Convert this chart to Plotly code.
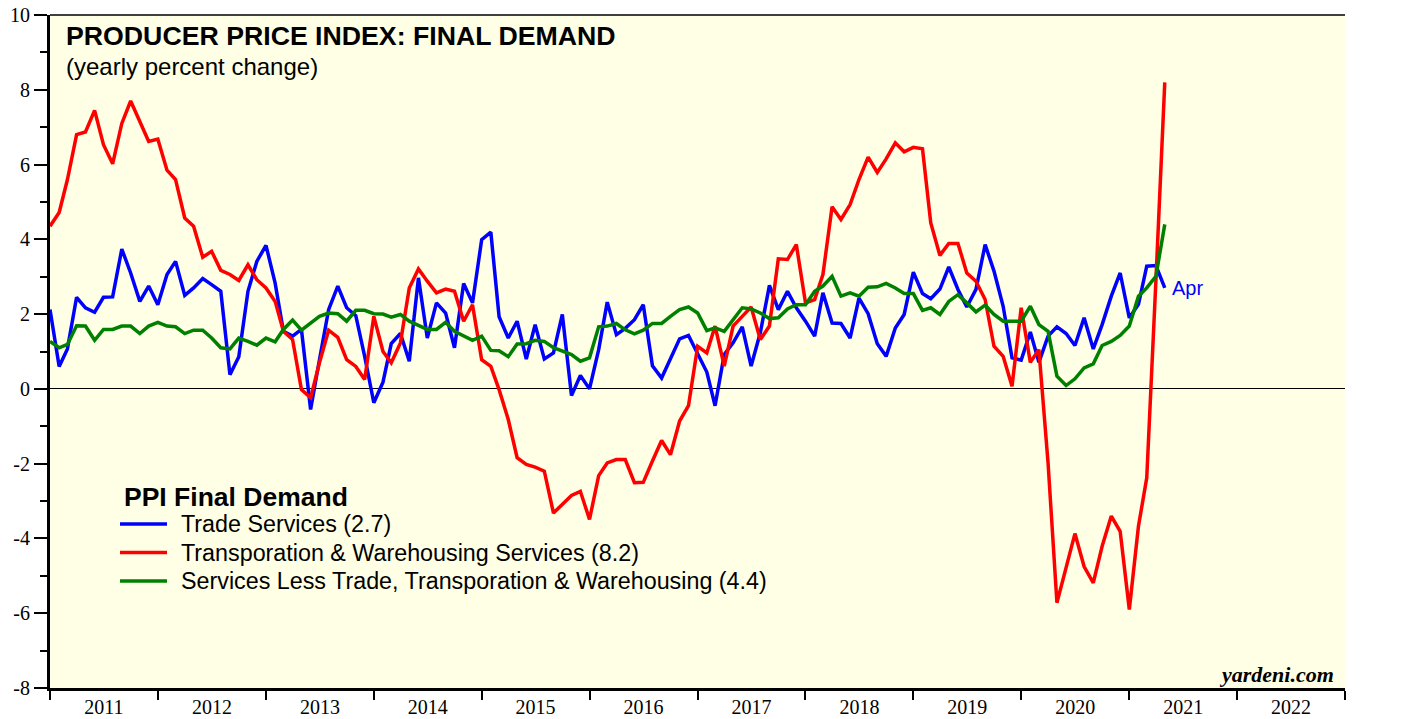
import pandas as pd
import plotly.graph_objects as go

# Monthly observations, Dec 2010 .. Apr 2021 (plotted at month end)
dates = pd.date_range("2011-01-01", periods=125, freq="MS")

trade_services = [
    2.12, 0.6, 1.07, 2.45, 2.17, 2.05, 2.45, 2.46, 3.74, 3.1, 2.34, 2.75, 2.25, 3.06, 3.41, 2.5,
    2.7, 2.95, 2.79, 2.61, 0.38, 0.86, 2.61, 3.41, 3.84, 2.83, 1.54, 1.41, 1.59, -0.55, 0.78, 2.12, 2.75,
    2.17, 1.96, 0.87, -0.37, 0.18, 1.21, 1.48, 0.74, 2.97, 1.36, 2.3, 2.03, 1.1, 2.82, 2.3, 3.99,
    4.19, 1.93, 1.36, 1.81, 0.8, 1.72, 0.8, 0.96, 1.99, -0.18, 0.36, 0.0, 1.05, 2.32, 1.45, 1.62,
    1.85, 2.25, 0.62, 0.29, 0.8, 1.34, 1.43, 0.96, 0.45, -0.45, 0.92, 1.23, 1.66, 0.61, 1.5, 2.77,
    2.12, 2.61, 2.17, 1.81, 1.41, 2.57, 1.76, 1.75, 1.36, 2.43, 2.01, 1.21, 0.87, 1.63, 1.99, 3.12,
    2.55, 2.41, 2.67, 3.26, 2.66, 2.19, 2.66, 3.86, 3.15, 2.21, 0.83, 0.77, 1.52, 0.71, 1.41, 1.66,
    1.48, 1.16, 1.9, 1.07, 1.72, 2.48, 3.1, 1.9, 2.26, 3.28, 3.3, 2.7,
]

transport_warehousing = [
    4.35, 4.72, 5.6, 6.8, 6.87, 7.45, 6.53, 6.02, 7.1, 7.7, 7.15, 6.62, 6.68, 5.85, 5.6, 4.57,
    4.35, 3.52, 3.68, 3.17, 3.06, 2.9, 3.32, 2.92, 2.7, 2.34, 1.54, 1.32, -0.02, -0.24, 0.7, 1.57, 1.38,
    0.78, 0.6, 0.25, 1.94, 1.0, 0.7, 1.23, 2.7, 3.21, 2.88, 2.57, 2.67, 2.61, 1.81, 2.25, 0.78,
    0.6, -0.02, -0.82, -1.84, -2.02, -2.09, -2.2, -3.32, -3.09, -2.85, -2.74, -3.49, -2.32, -1.98, -1.89, -1.89,
    -2.51, -2.5, -1.93, -1.38, -1.76, -0.86, -0.45, 1.14, 0.96, 1.68, 0.61, 1.68, 1.94, 2.19, 1.32, 1.68,
    3.48, 3.46, 3.86, 2.3, 2.39, 3.06, 4.87, 4.53, 4.93, 5.6, 6.2, 5.79, 6.15, 6.58, 6.34, 6.46,
    6.42, 4.44, 3.57, 3.89, 3.89, 3.1, 2.88, 2.39, 1.14, 0.87, 0.07, 2.17, 0.71, 1.05, -1.98, -5.72,
    -4.78, -3.87, -4.75, -5.19, -4.21, -3.4, -3.81, -5.9, -3.67, -2.38, 2.9, 8.2,
]

services_less = [
    1.27, 1.1, 1.19, 1.69, 1.68, 1.3, 1.59, 1.59, 1.68, 1.68, 1.48, 1.68, 1.78, 1.68, 1.66, 1.48,
    1.57, 1.57, 1.36, 1.1, 1.07, 1.36, 1.27, 1.17, 1.36, 1.26, 1.59, 1.84, 1.57, 1.76, 1.94, 2.03, 2.01,
    1.81, 2.1, 2.1, 2.01, 2.0, 1.92, 1.99, 1.81, 1.7, 1.59, 1.59, 1.78, 1.54, 1.41, 1.3, 1.41,
    1.03, 1.02, 0.86, 1.2, 1.21, 1.3, 1.27, 1.1, 1.01, 0.92, 0.74, 0.83, 1.66, 1.68, 1.75, 1.58,
    1.47, 1.57, 1.75, 1.75, 1.94, 2.12, 2.19, 2.03, 1.56, 1.63, 1.54, 1.85, 2.17, 2.14, 2.03, 1.88,
    1.9, 2.14, 2.25, 2.25, 2.61, 2.75, 3.01, 2.48, 2.57, 2.48, 2.72, 2.73, 2.82, 2.7, 2.55, 2.55,
    2.1, 2.17, 1.99, 2.34, 2.52, 2.3, 2.06, 2.24, 1.99, 1.81, 1.81, 1.81, 2.21, 1.72, 1.54, 0.34,
    0.09, 0.27, 0.56, 0.67, 1.16, 1.27, 1.43, 1.68, 2.48, 2.7, 3.01, 4.4,
]

legend_title = "PPI Final Demand"
series_names = [
    "Trade Services (2.7)",
    "Transporation & Warehousing Services (8.2)",
    "Services Less Trade, Transporation & Warehousing (4.4)",
]
series_colors = ["#0000FF", "#FF0000", "#008000"]
series_values = [trade_services, transport_warehousing, services_less]

y_tick_values = [-8, -6, -4, -2, 0, 2, 4, 6, 8, 10]
y_tick_labels = ["-8", "-6", "-4", "-2", "0", "2", "4", "6", "8", "10"]
y_minor_values = [-7, -5, -3, -1, 1, 3, 5, 7, 9]

SANS = "Liberation Sans, Arial, sans-serif"
SERIF = "Liberation Serif, Times New Roman, serif"

# The page body adds an 8px margin; the figure is sized so the page is 1406x719.
BODY = 8
W, H = 1406 - BODY, 719 - BODY
PLOT_LEFT, PLOT_RIGHT, PLOT_TOP, PLOT_BOTTOM = 50, 1345, 15, 688  # page pixels
L = PLOT_LEFT - BODY
T = PLOT_TOP - BODY
PW = PLOT_RIGHT - PLOT_LEFT
PH = PLOT_BOTTOM - PLOT_TOP
R = W - L - PW
B = H - T - PH


def px(xpage):
    return (xpage - PLOT_LEFT) / PW


def py(ypage):
    return (PLOT_BOTTOM - ypage) / PH


fig = go.Figure()
for name, color, vals in zip(series_names, series_colors, series_values):
    fig.add_trace(go.Scatter(
        x=dates, y=vals, mode="lines", name=name, showlegend=False,
        line=dict(color=color, width=3.5),
    ))

yaxis_common = dict(
    range=[-8, 10], tickmode="array", tickvals=y_tick_values, ticktext=y_tick_labels,
    ticks="outside", ticklen=13, tickwidth=1.5,
    tickcolor="black", showline=True, linewidth=3, linecolor="black", showgrid=False,
    tickfont=dict(family=SERIF, size=20, color="black"),
    minor=dict(tickmode="array", tickvals=y_minor_values, ticks="outside", ticklen=7,
               tickwidth=1.5, tickcolor="black", showgrid=False),
    ticklabelstandoff=0, ticklabeloverflow="allow", automargin=False,
)

# legend drawn as text + sample lines inside the plot area
legend_shapes = []
legend_annotations = [
    dict(text="<b>" + legend_title + "</b>", x=px(122), y=py(497), xref="paper", yref="paper",
         xanchor="left", yanchor="middle", showarrow=False,
         font=dict(family=SANS, size=26.5, color="black")),
]
legend_rows = [524, 552.5, 581]
for name, color, row in zip(series_names, series_colors, legend_rows):
    legend_shapes.append(dict(type="line", xref="paper", yref="paper",
                              x0=px(120), x1=px(167), y0=py(row), y1=py(row),
                              line=dict(color=color, width=3.5)))
    legend_annotations.append(dict(text=name, x=px(179), y=py(row), xref="paper", yref="paper",
                                   xanchor="left", yanchor="middle", showarrow=False,
                                   font=dict(family=SANS, size=23.3, color="black")))

fig.update_layout(
    width=W, height=H,
    margin=dict(l=L, r=R, t=T, b=B, pad=0, autoexpand=False),
    paper_bgcolor="white",
    plot_bgcolor="#FFFFE5",
    showlegend=False,
    xaxis=dict(
        type="date", range=["2011-01-01", "2023-01-01"], dtick="M12", tick0="2011-01-01",
        ticklabelmode="period", tickformat="%Y", ticks="outside", ticklen=9, tickwidth=2,
        tickcolor="black", showline=True, linewidth=3, linecolor="black", showgrid=False,
        zeroline=False, tickfont=dict(family=SERIF, size=20, color="black"), automargin=False,
        ticklabelstandoff=-10, ticklabeloverflow="allow",
    ),
    yaxis=dict(**yaxis_common, zeroline=True, zerolinecolor="black", zerolinewidth=1, side="left"),
    yaxis2=dict(**yaxis_common, zeroline=False, overlaying="y", side="right", anchor="x"),
    shapes=[dict(type="line", xref="paper", yref="paper", x0=0, x1=1, y0=1, y1=1,
                 line=dict(color="black", width=1.5))] + legend_shapes,
    annotations=[
        dict(text="<b>PRODUCER PRICE INDEX: FINAL DEMAND</b>", x=px(64), y=py(36),
             xref="paper", yref="paper", xanchor="left", yanchor="middle", showarrow=False,
             font=dict(family=SANS, size=26.7, color="black")),
        dict(text="(yearly percent change)", x=px(64), y=py(67),
             xref="paper", yref="paper", xanchor="left", yanchor="middle", showarrow=False,
             font=dict(family=SANS, size=24, color="black")),
        dict(text="Apr", x=dates[-1], y=trade_services[-1], xref="x", yref="y",
             xanchor="left", yanchor="middle", xshift=5, showarrow=False,
             font=dict(family=SANS, size=20, color="#0000FF")),
        dict(text="<b><i>yardeni.com</i></b>", x=px(1336), y=py(674),
             xref="paper", yref="paper", xanchor="right", yanchor="middle", showarrow=False,
             font=dict(family=SERIF, size=22, color="black")),
    ] + legend_annotations,
)

fig.write_html("out.html")
